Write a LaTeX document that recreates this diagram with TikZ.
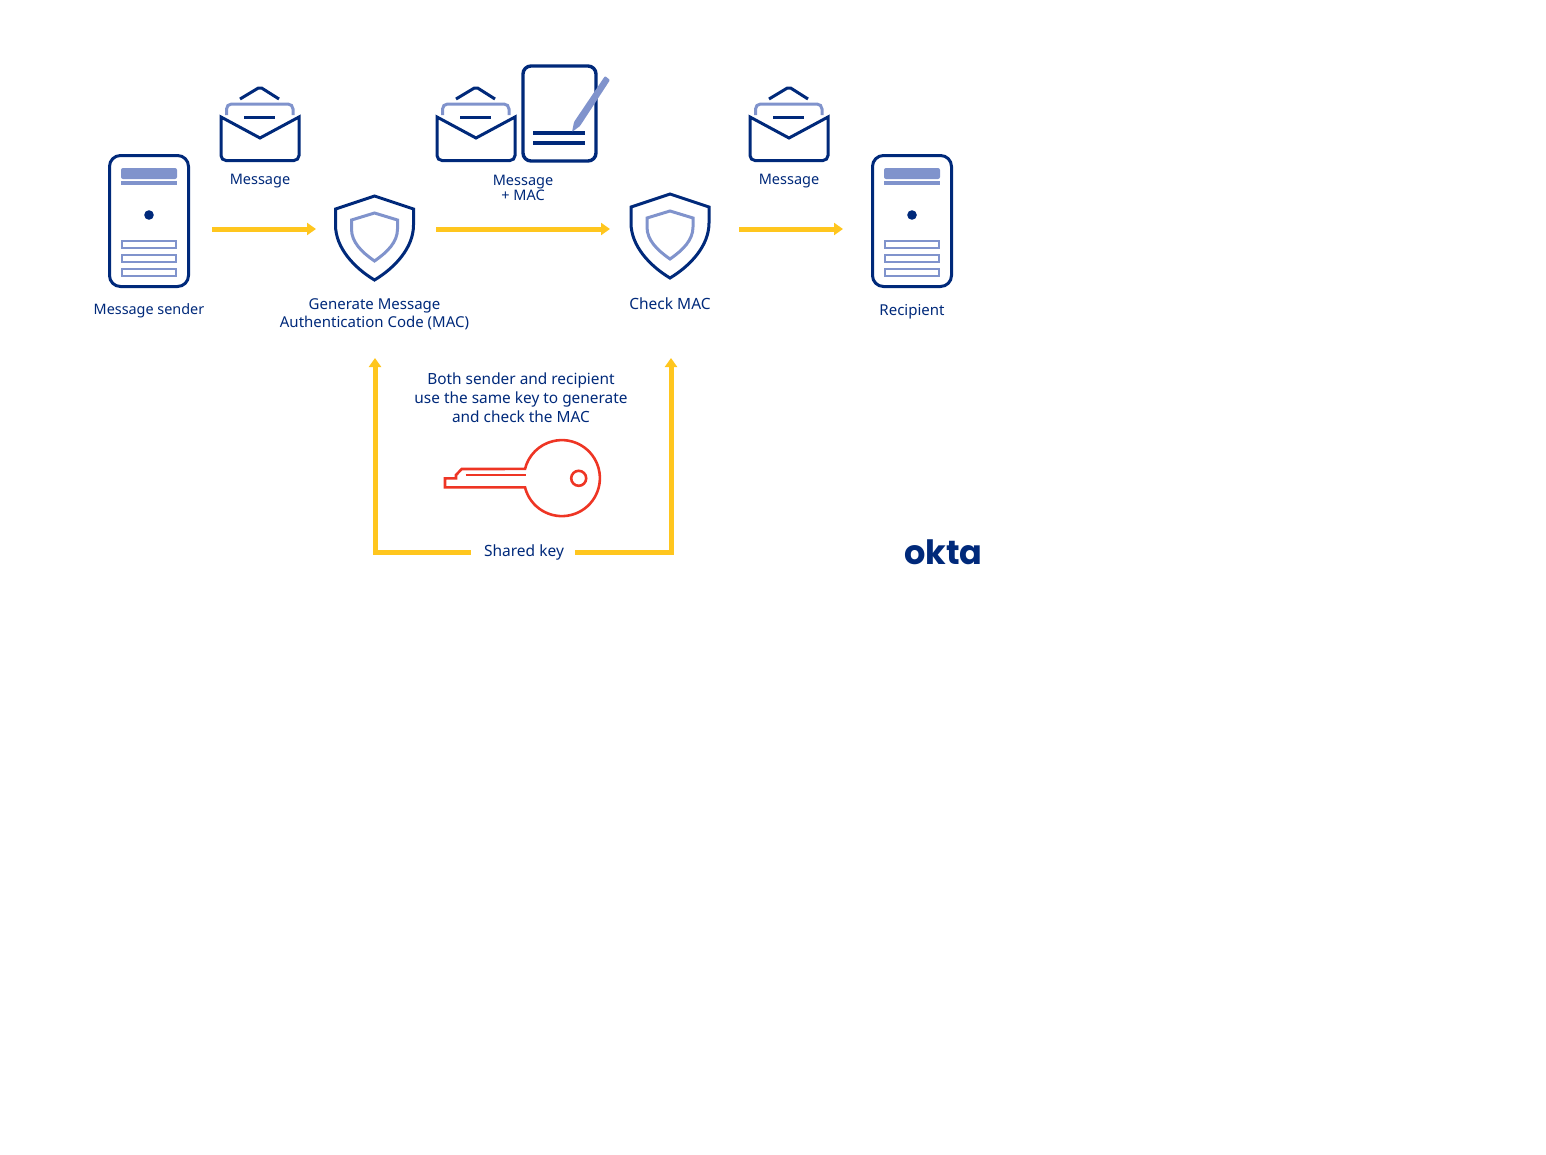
\documentclass[tikz,border=0pt]{standalone}
\usepackage{fontspec}
\usepackage{tikz}
\usetikzlibrary{arrows.meta, positioning}
\setmainfont{Noto Sans}
\newfontfamily\logofont{Poppins}
\definecolor{navy}{HTML}{00297A}
\definecolor{soft}{HTML}{8093CC}
\definecolor{amber}{HTML}{FFC61E}
\definecolor{keyred}{HTML}{EE3524}
\tikzset{
    label/.style={text=navy, align=center, inner sep=0pt, font=\fontsize{15}{18}\selectfont},
    flow/.style={draw=amber, line width=5pt, -{Triangle[length=9pt,width=12pt]}},
    darkline/.style={draw=navy, line width=3pt},
    softline/.style={draw=soft, line width=3pt},
    server/.pic={
        \draw[darkline, rounded corners=11] (-39.5,-65.5) rectangle (39.5,65.5);
        \fill[soft, rounded corners=2] (-28,-42) -- (-28,-53) -- (28,-53) -- (28,-42) -- cycle;
        \fill[soft] (-28,-40) rectangle (28,-36);
        \fill[navy] (0,-6) circle (4.8);
        \foreach \ybar in {20,34,48} {
            \draw[draw=soft, line width=2.6pt] (-27,\ybar) rectangle (27,\ybar+7);
        }
    },
    envelope/.pic={
        \draw[darkline, line cap=butt, rounded corners=2] (-20,-26) -- (0,-38) -- (19,-26);
        \draw[softline, rounded corners=5] (-33.5,-10) -- (-33.5,-21) -- (33,-21) -- (33,-10);
        \draw[darkline] (-16,-8) -- (15,-8);
        \draw[darkline] (-39,-8) -- (0,13) -- (39,-8) [rounded corners=5] -- (39,35.5) -- (-39,35.5) [sharp corners] -- cycle;
    },
    shield/.pic={
        \draw[darkline, miter limit=4] (0,0) -- (39,13) -- (39,29) .. controls (39,52) and (20,72) .. (0,84)
            .. controls (-20,72) and (-39,52) .. (-39,29) -- (-39,13) -- cycle;
        \draw[softline] (0,17) -- (23,24) -- (23,33) .. controls (23,46) and (13,56) .. (0,65)
            .. controls (-13,56) and (-23,46) .. (-23,33) -- (-23,24) -- cycle;
    }
}
\begin{document}
\begin{tikzpicture}[x=1pt, y=-1pt]
    \useasboundingbox (0,0) rectangle (1546,1154);

    % Servers
    \pic at (149,221) {server};
    \pic at (912,221) {server};
    \node[label, font=\fontsize{14.4}{18}\selectfont] (sender) at (149,311) {Message sender};
    \node[label] (recipient) at (912,312) {Recipient};

    % Messages
    \pic at (260,125) {envelope};
    \pic at (476,125) {envelope};
    \pic at (789,125) {envelope};
    \node[label, font=\fontsize{14.5}{18}\selectfont] (msgA) at (260,181) {Message};
    \node[label, font=\fontsize{14.5}{15}\selectfont] (msgB) at (523,188) {Message\\+ MAC};
    \node[label, font=\fontsize{14.5}{18}\selectfont] (msgC) at (789,181) {Message};

    % Tablet with the MAC
    \draw[darkline, line width=3.4pt, rounded corners=8] (523,66) rectangle (596,161);
    \draw[darkline, line width=3.4pt] (533,133) -- (585,133);
    \draw[darkline, line width=3.4pt] (533,143) -- (585,143);
    \fill[soft, rounded corners=1] (572,132) -- (574,122) -- (605,76) -- (610,80) -- (580,126) -- cycle;

    % Shields
    \pic at (374.5,196) {shield};
    \pic at (670,194) {shield};
    \node[label] (generate) at (374.5,314) {Generate Message\\Authentication Code (MAC)};
    \node[label, font=\fontsize{15.5}{18}\selectfont] (check) at (670,304) {Check MAC};

    % Message flow
    \coordinate (A1) at (212,229);
    \coordinate (A2) at (316,229);
    \coordinate (B1) at (436,229);
    \coordinate (B2) at (610,229);
    \coordinate (C1) at (739,229);
    \coordinate (C2) at (843,229);
    \draw[flow] (A1) -- (A2);
    \draw[flow] (B1) -- (B2);
    \draw[flow] (C1) -- (C2);

    % Shared key
    \node[label, font=\fontsize{15.4}{19}\selectfont] (note) at (521,398) {Both sender and recipient\\use the same key to generate\\and check the MAC};
    \node[label, minimum width=104pt, font=\fontsize{15.5}{18}\selectfont] (shared) at (523,552.5) {\hspace{2pt}Shared key};
    \coordinate (G) at (375,358);
    \coordinate (K) at (671,358);
    \draw[flow] (shared.west |- 0,552) -| (G);
    \draw[flow] (shared.east |- 0,552) -| (K);
    \draw[draw=keyred, line width=2.6pt] (525,487.3) arc[start angle=166, end angle=-166, radius=38]
        -- (461.7,469) -- (456,475) -- (456,478.3) -- (445,478.3) -- (445,487.3) -- cycle;
    \draw[draw=keyred, line width=2.6pt] (465.7,475) -- (526,475);
    \draw[draw=keyred, line width=2.6pt] (578.7,478.3) circle (7.5);

    % Logo
    \node[text=navy, inner sep=0pt, font=\logofont\bfseries\fontsize{33.5}{34}\selectfont] (logo) at (943.5,552) {okta};
\end{tikzpicture}
\end{document}
